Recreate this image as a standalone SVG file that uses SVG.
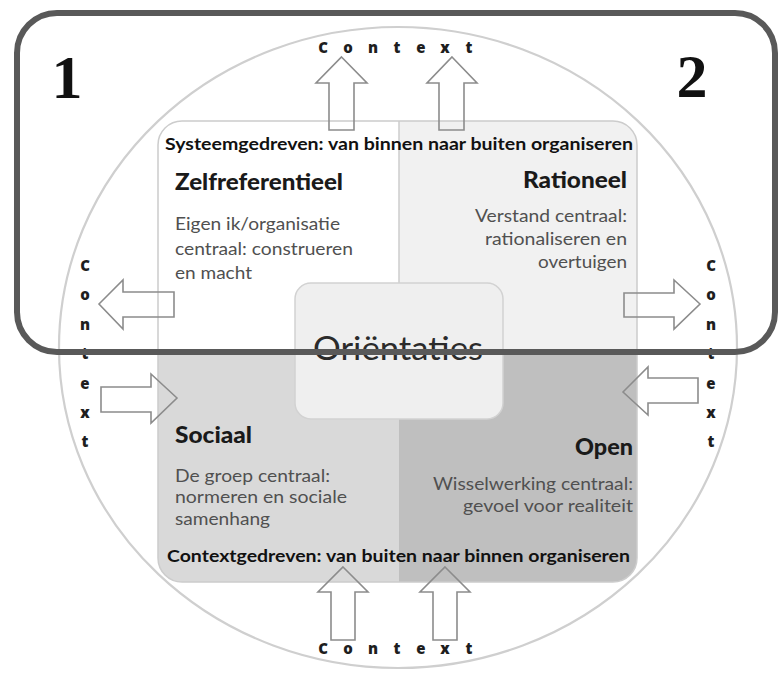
<svg xmlns="http://www.w3.org/2000/svg" width="781" height="675" viewBox="0 0 781 675">
  <defs>
    <clipPath id="panel-clip">
      <rect x="158" y="121" width="479" height="461" rx="24" ry="24"/>
    </clipPath>
    <style>
      .ctx { font-family: "Open Sans", Lato, sans-serif; font-weight: 800; font-size: 15px; fill: #1e1e1e; text-anchor: middle; }
      .band { font-family: Lato, "Open Sans", sans-serif; font-weight: bold; font-size: 17px; fill: #111; }
      .head { font-family: Lato, "Open Sans", sans-serif; font-weight: 900; font-size: 23px; fill: #1a1a1a; }
      .body { font-family: Lato, "Open Sans", sans-serif; font-size: 17px; fill: #505050; }
      .right { text-anchor: end; }
      .arrow { fill: none; stroke: #8c8c8c; stroke-width: 1.6; stroke-linejoin: miter; }
      .num { font-family: "Liberation Serif", "DejaVu Serif", serif; font-weight: bold; font-size: 62px; fill: #111; text-anchor: middle; }
    </style>
  </defs>

  <rect x="0" y="0" width="781" height="675" fill="#ffffff"/>

  <!-- context ellipse -->
  <ellipse id="context-ring" cx="398" cy="347.5" rx="339" ry="320.5" fill="none" stroke="#cfcfcf" stroke-width="2.2"/>

  <!-- four quadrant panel -->
  <g id="panel">
    <g clip-path="url(#panel-clip)">
      <rect x="158" y="121" width="241" height="231" fill="#ffffff"/>
      <rect x="399" y="121" width="238" height="231" fill="#f1f1f1"/>
      <rect x="158" y="352" width="241" height="230" fill="#d9d9d9"/>
      <rect x="399" y="352" width="238" height="230" fill="#bfbfbf"/>
    </g>
    <line x1="399" y1="121" x2="399" y2="352" stroke="#cccccc" stroke-width="1.5"/>
    <rect x="158" y="121" width="479" height="461" rx="24" ry="24" fill="none" stroke="#cccccc" stroke-width="1.5"/>
  </g>

  <g id="band-top">
    <text class="band" x="165" y="150" textLength="468" lengthAdjust="spacingAndGlyphs">Systeemgedreven: van binnen naar buiten organiseren</text>
  </g>

  <g id="zelfreferentieel">
    <text class="head" x="175" y="190" textLength="168" lengthAdjust="spacingAndGlyphs">Zelfreferentieel</text>
    <text class="body" x="175" y="230" textLength="165" lengthAdjust="spacingAndGlyphs">Eigen ik/organisatie</text>
    <text class="body" x="175" y="255" textLength="178" lengthAdjust="spacingAndGlyphs">centraal: construeren</text>
    <text class="body" x="175" y="279" textLength="77" lengthAdjust="spacingAndGlyphs">en macht</text>
  </g>

  <g id="rationeel">
    <text class="head right" x="627" y="188" textLength="104" lengthAdjust="spacingAndGlyphs">Rationeel</text>
    <text class="body right" x="627" y="222" textLength="152" lengthAdjust="spacingAndGlyphs">Verstand centraal:</text>
    <text class="body right" x="627" y="245" textLength="142" lengthAdjust="spacingAndGlyphs">rationaliseren en</text>
    <text class="body right" x="627" y="268" textLength="89" lengthAdjust="spacingAndGlyphs">overtuigen</text>
  </g>

  <g id="sociaal">
    <text class="head" x="175" y="443" textLength="77" lengthAdjust="spacingAndGlyphs">Sociaal</text>
    <text class="body" x="175" y="482" textLength="155" lengthAdjust="spacingAndGlyphs">De groep centraal:</text>
    <text class="body" x="175" y="503" textLength="172" lengthAdjust="spacingAndGlyphs">normeren en sociale</text>
    <text class="body" x="175" y="525" textLength="95" lengthAdjust="spacingAndGlyphs">samenhang</text>
  </g>

  <g id="open">
    <text class="head right" x="633" y="455" textLength="58" lengthAdjust="spacingAndGlyphs">Open</text>
    <text class="body right" x="633" y="490" textLength="200" lengthAdjust="spacingAndGlyphs">Wisselwerking centraal:</text>
    <text class="body right" x="633" y="512" textLength="170" lengthAdjust="spacingAndGlyphs">gevoel voor realiteit</text>
  </g>

  <g id="band-bottom">
    <text class="band" x="167" y="562" textLength="463" lengthAdjust="spacingAndGlyphs">Contextgedreven: van buiten naar binnen organiseren</text>
  </g>

  <g id="orientaties">
    <rect x="295" y="283" width="208" height="136" rx="16" ry="16" fill="#efefef" stroke="#d2d2d2" stroke-width="1.5"/>
    <text x="398" y="360" font-family="Lato, 'Open Sans', sans-serif" font-size="33" fill="#2b2b2b" text-anchor="middle" textLength="170" lengthAdjust="spacingAndGlyphs">Oriëntaties</text>
  </g>

  <!-- context labels -->
  <g id="context-top">
    <text class="ctx" x="323 348 373 397 421 445 469" y="53">Context</text>
  </g>
  <g id="context-bottom">
    <text class="ctx" x="323 348 373 397 421 445 469" y="654">Context</text>
  </g>
  <g id="context-left">
    <text class="ctx" x="85" y="271">C</text>
    <text class="ctx" x="85" y="300">o</text>
    <text class="ctx" x="85" y="330">n</text>
    <text class="ctx" x="85" y="359">t</text>
    <text class="ctx" x="85" y="389">e</text>
    <text class="ctx" x="85" y="418">x</text>
    <text class="ctx" x="85" y="447">t</text>
  </g>
  <g id="context-right">
    <text class="ctx" x="711" y="271">C</text>
    <text class="ctx" x="711" y="300">o</text>
    <text class="ctx" x="711" y="330">n</text>
    <text class="ctx" x="711" y="359">t</text>
    <text class="ctx" x="711" y="389">e</text>
    <text class="ctx" x="711" y="418">x</text>
    <text class="ctx" x="711" y="447">t</text>
  </g>

  <!-- block arrows -->
  <g id="connectors">
    <path class="arrow" d="M341.5,57 L367,83 L354,83 L354,130 L329,130 L329,83 L316,83 Z"/>
    <path class="arrow" d="M452,57 L477,83 L464,83 L464,130 L439,130 L439,83 L427,83 Z"/>
    <path class="arrow" d="M343,567 L368,592 L355,592 L355,640 L331,640 L331,592 L318,592 Z"/>
    <path class="arrow" d="M445,567 L470,592 L457,592 L457,640 L433,640 L433,592 L420,592 Z"/>
    <path class="arrow" d="M99,304 L123,280 L123,292 L174,292 L174,317 L123,317 L123,329 Z"/>
    <path class="arrow" d="M177,398 L151,374 L151,387 L101,387 L101,412 L151,412 L151,423 Z"/>
    <path class="arrow" d="M700,304 L674,280 L674,293 L624,293 L624,317 L674,317 L674,329 Z"/>
    <path class="arrow" d="M623,392 L648,367 L648,378 L698,378 L698,403 L648,403 L648,415 Z"/>
  </g>

  <!-- highlight frame over the upper half -->
  <g id="frame">
    <rect x="17" y="13" width="758" height="339" rx="40" ry="40" fill="none" stroke="#595959" stroke-width="6"/>
    <text class="num" x="67" y="98">1</text>
    <text class="num" x="692" y="97">2</text>
  </g>
</svg>
